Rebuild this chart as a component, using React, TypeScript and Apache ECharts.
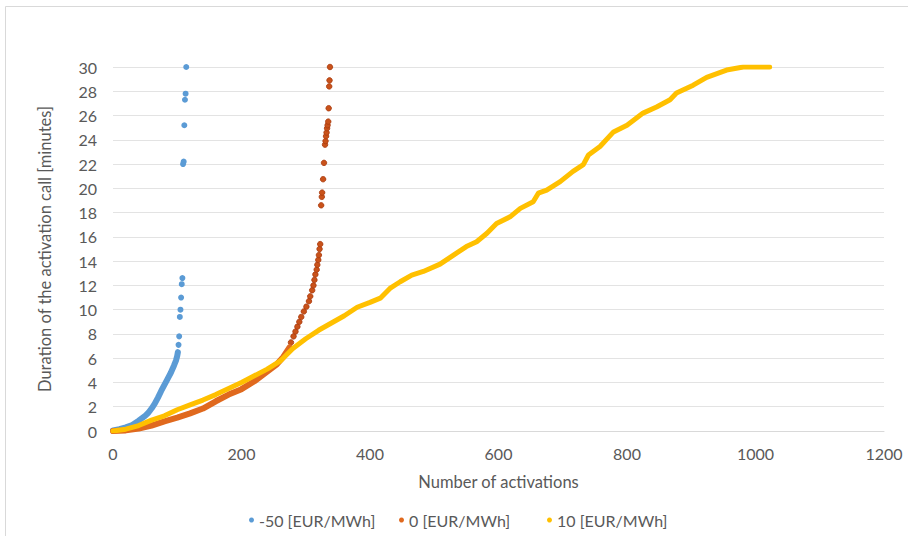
import React, { useEffect, useRef } from "react";
import * as echarts from "echarts";

// ---- data ----
const seriesNames = ["-50 [EUR/MWh]", "0 [EUR/MWh]", "10 [EUR/MWh]"];

// -50 EUR/MWh : dense band then isolated points
const blueBandX = [0, 10, 20, 30, 40, 50, 55, 60, 65, 70, 75, 80, 85, 90, 95, 98, 100, 101];
const blueBandY = [0.05, 0.15, 0.3, 0.5, 0.85, 1.25, 1.5, 1.85, 2.25, 2.75, 3.3, 3.8, 4.3, 4.8, 5.4, 5.8, 6.2, 6.5];
const blueDotX = [102, 103, 104, 105, 106, 107, 108, 109, 110, 111, 112, 113, 114];
const blueDotY = [7.1, 7.8, 9.4, 10.0, 11.0, 12.1, 12.6, 22.0, 22.2, 25.2, 27.3, 27.8, 30.0];

// 0 EUR/MWh
const orangeBandX = [0, 20, 40, 60, 80, 100, 120, 140, 160, 180, 200, 220, 240, 255, 265, 275];
const orangeBandY = [0, 0.05, 0.2, 0.45, 0.8, 1.1, 1.45, 1.85, 2.45, 3.0, 3.45, 4.1, 4.9, 5.5, 6.1, 6.9];
const orangeDotX = [277, 281, 284, 287, 290, 293, 297, 301, 305, 307, 310, 312, 313.5, 315, 317, 318, 319.5, 320.5, 321.5, 322.5,
  324, 325, 325.5, 327, 328.4, 330, 330.8, 331.6, 332.4, 333.2, 334, 335, 335.7, 336.5, 337, 337.7];
const orangeDotY = [7.3, 7.8, 8.2, 8.6, 9.0, 9.4, 9.85, 10.25, 10.7, 11.1, 11.6, 12.0, 12.45, 12.9, 13.3, 13.7, 14.1, 14.5, 15.0, 15.4,
  18.6, 19.3, 19.65, 20.75, 22.1, 23.6, 23.9, 24.3, 24.6, 24.95, 25.2, 25.5, 26.6, 28.4, 28.9, 30.0];

// 10 EUR/MWh
const yellowX = [0, 20, 40, 60, 80, 100, 120, 140, 160, 180, 200, 220, 240, 260, 280, 300, 320, 340, 360, 380, 400, 416, 431, 447,
  465, 483, 509, 530, 550, 566, 582, 597, 618, 634, 654, 662, 675, 696, 716, 732, 740, 758, 779, 800, 825, 846, 867, 877, 903, 924,
  955, 981, 1000, 1022];
const yellowY = [0, 0.15, 0.45, 0.9, 1.25, 1.75, 2.15, 2.55, 3.0, 3.5, 4.0, 4.55, 5.1, 5.75, 6.8, 7.6, 8.3, 8.9, 9.5, 10.2, 10.6, 10.95,
  11.75, 12.3, 12.85, 13.15, 13.75, 14.5, 15.2, 15.6, 16.3, 17.1, 17.65, 18.35, 18.9, 19.6, 19.85, 20.55, 21.4, 21.95, 22.75, 23.45,
  24.65, 25.2, 26.2, 26.7, 27.3, 27.85, 28.5, 29.15, 29.75, 30, 30, 30];

const xMin = 0, xMax = 1200, xStep = 200;
const yMin = 0, yMax = 30, yStep = 2;
const xTitle = "Number of activations";
const yTitle = "Duration of the activation call [minutes]";

const colors = { blue: "#5B9BD5", orange: "#E0691E", orangeDot: "#C9521A", yellow: "#FFC000" };
const FONT = "Lato, 'Open Sans', sans-serif";
const legendLefts = [244, 394, 542];

const zip = (a: number[], b: number[]) => a.map((v, i) => [v, b[i]]);

export default function App() {
  const ref = useRef<HTMLDivElement>(null);
  useEffect(() => {
    if (!ref.current) return;
    const chart = echarts.init(ref.current, undefined, { renderer: "svg" });
    const band = (name: string, data: number[][], color: string, w: number) => ({
      name, type: "line", data, symbol: "none", smooth: false,
      lineStyle: { color, width: w, cap: "round", join: "round" },
      itemStyle: { color }, silent: true,
    });
    const dots = (name: string, data: number[][], color: string, size: number, border?: string) => ({
      name, type: "scatter", data, symbol: "circle", symbolSize: size,
      itemStyle: { color, borderColor: border ?? color, borderWidth: border ? 0.8 : 0, opacity: 1 },
      silent: true,
    });
    chart.setOption({
      animation: false,
      textStyle: { fontFamily: FONT },
      graphic: [{
        type: "rect", shape: { x: 5.5, y: 6.5, width: 930, height: 560 },
        style: { fill: "none", stroke: "#d9d9d9", lineWidth: 1 }, silent: true,
      }],
      grid: { left: 113, right: 24, top: 67, bottom: 105, containLabel: false },
      xAxis: {
        type: "value", min: xMin, max: xMax, interval: xStep,
        axisLine: { show: true, lineStyle: { color: "#d9d9d9", width: 1 } },
        axisTick: { show: false }, splitLine: { show: false },
        axisLabel: { color: "#595959", fontSize: 16, margin: 14, fontFamily: FONT, formatter: (v: number) => String(v) },
        name: xTitle, nameLocation: "middle", nameGap: 42,
        nameTextStyle: { color: "#595959", fontSize: 16.5, fontFamily: FONT },
      },
      yAxis: {
        type: "value", min: yMin, max: yMax, interval: yStep,
        axisLine: { show: false }, axisTick: { show: false },
        splitLine: { show: true, lineStyle: { color: "#e3e3e3", width: 1 } },
        axisLabel: { color: "#595959", fontSize: 16, margin: 16, fontFamily: FONT },
        name: yTitle, nameLocation: "middle", nameGap: 60, nameRotate: 90,
        nameTextStyle: { color: "#595959", fontSize: 16.5, fontFamily: FONT },
      },
      legend: seriesNames.map((n, i) => ({
        data: [{ name: n, icon: "circle" }],
        left: legendLefts[i], top: 507, itemWidth: 5, itemHeight: 5,
        textStyle: { color: "#595959", fontSize: 16, fontFamily: FONT },
        selectedMode: false,
      })),
      series: [
        band(seriesNames[0], zip(blueBandX, blueBandY), colors.blue, 6),
        dots(seriesNames[0], zip(blueDotX, blueDotY), colors.blue, 6),
        band(seriesNames[1], zip(orangeBandX, orangeBandY), colors.orange, 6),
        dots(seriesNames[1], zip(orangeDotX, orangeDotY), colors.orangeDot, 5.5, "#A83A0E"),
        band(seriesNames[2], zip(yellowX, yellowY), colors.yellow, 5),
      ],
    });
    return () => chart.dispose();
  }, []);
  return <div ref={ref} style={{ position: "fixed", left: 0, top: 0, width: 908, height: 536, background: "#fff" }} />;
}
